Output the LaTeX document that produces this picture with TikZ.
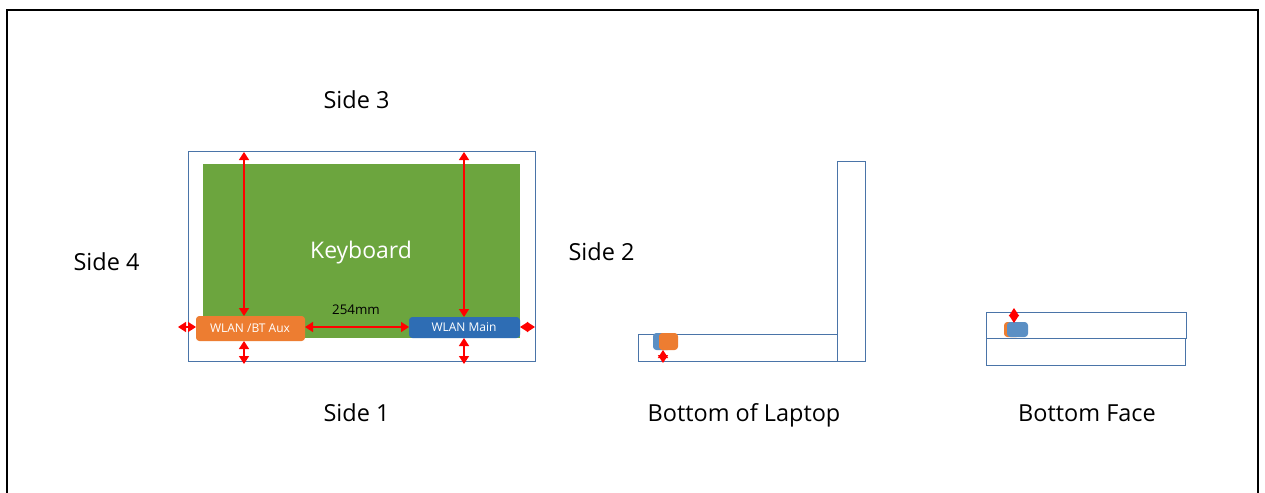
\documentclass[tikz,border=0pt]{standalone}
\usepackage{fontspec}
\setmainfont{Open Sans}
\usetikzlibrary{arrows.meta}
\definecolor{linkblue}{HTML}{4A74A8}
\definecolor{keygreen}{HTML}{6CA53E}
\definecolor{auxorange}{HTML}{ED7D31}
\definecolor{mainblue}{HTML}{2E6DB4}
\definecolor{midblue}{HTML}{5B8FC4}
\tikzset{
  x=0.75pt,y=-0.75pt,
  outline/.style={draw=linkblue,line width=0.75pt,fill=white},
  frameline/.style={draw=black,line width=1.5pt},
  redarrow/.style={draw=red,line width=1.1pt,{Triangle[length=6pt,width=7.5pt]}-{Triangle[length=6pt,width=7.5pt]}},
  caption/.style={font=\fontsize{17.6}{20}\selectfont,text=black,inner sep=0pt,anchor=base},
  tag/.style={font=\fontsize{9}{10}\selectfont,text=white,inner sep=0pt,anchor=center},
  antenna/.style={rounded corners=2.5pt,draw=none},
  box/.style={inner sep=0pt,outer sep=0pt,minimum width=0pt,minimum height=0pt},
}
\newcommand{\rectnode}[6]{\node[box,#1,minimum width=#4*0.75pt,minimum height=#5*0.75pt,anchor=north west] (#2) at (#3) {#6};}
\begin{document}
\begin{tikzpicture}
\useasboundingbox (0,0) rectangle (1265,493);
\fill[white] (0,0) rectangle (1265,493);
\coordinate (fa) at (7,496);
\coordinate (fb) at (7,10);
\coordinate (fc) at (1258,10);
\coordinate (fd) at (1258,496);
\draw[frameline] (fa) -- (fb) -- (fc) -- (fd);

% left panel
\rectnode{outline}{base}{188.5,151.5}{346.5}{210}{}
\rectnode{fill=keygreen}{kb}{203,164}{317}{174}{}
\node[font=\fontsize{17.2}{21}\selectfont,text=white,inner sep=0pt] (kbl) at (361,252.5) {Keyboard};
\rectnode{fill=auxorange,antenna}{aux}{196,316}{109}{25}{}
\node[tag] (auxl) at (250,328) {WLAN /BT Aux};
\rectnode{fill=mainblue,antenna}{main}{409,317}{111}{21}{}
\node[tag] (mainl) at (464,327) {WLAN Main};
\node[font=\fontsize{10}{11}\selectfont,inner sep=0pt] (dim) at (356,310) {254mm};

\coordinate (t1) at (244,152);
\coordinate (t2) at (464,152);
\coordinate (b1) at (244,364);
\coordinate (b2) at (464,364);
\coordinate (l1) at (178,327);
\coordinate (r1) at (535,327);
\coordinate (a1) at (244,316);
\coordinate (a2) at (244,341);
\coordinate (a3) at (196,327);
\coordinate (a4) at (305,327);
\coordinate (m1) at (464,317);
\coordinate (m2) at (464,338);
\coordinate (m3) at (409,327);
\coordinate (m4) at (520,327);
\draw[redarrow] (t1) -- (a1);
\draw[redarrow] (t2) -- (m1);
\draw[redarrow] (a2) -- (b1);
\draw[redarrow] (m2) -- (b2);
\draw[redarrow] (l1) -- (a3);
\draw[redarrow] (a4) -- (m3);
\draw[redarrow] (m4) -- (r1);

\node[caption] (s3) at (356.5,108) {Side 3};
\node[caption] (s4) at (106.5,270) {Side 4};
\node[caption] (s2) at (601.5,260) {Side 2};
\node[caption] (s1) at (356.5,421) {Side 1};

% middle panel
\rectnode{outline}{lid}{837.5,161.5}{28}{200}{}
\rectnode{outline}{deck}{638.5,334.5}{199}{27}{}
\rectnode{fill=midblue,antenna}{mb}{653,333}{18}{17}{}
\rectnode{fill=auxorange,antenna}{mo}{659,333}{19}{17}{}
\coordinate (mbot) at (663,363);
\coordinate (mtop) at (663,350);
\draw[redarrow] (mtop) -- (mbot);
\node[caption] (c1) at (744,421) {Bottom of Laptop};

% right panel
\rectnode{outline}{top}{986.5,312.5}{200}{26}{}
\rectnode{outline}{bot}{986.5,338.5}{199}{27}{}
\rectnode{fill=auxorange,antenna}{ro}{1004,322}{16}{15}{}
\rectnode{fill=midblue,antenna}{rb}{1007,322}{21}{15}{}
\coordinate (rtop) at (1014,308);
\coordinate (rbot) at (1014,323);
\draw[redarrow] (rtop) -- (rbot);
\node[caption] (c2) at (1087,421) {Bottom Face};
\end{tikzpicture}
\end{document}
